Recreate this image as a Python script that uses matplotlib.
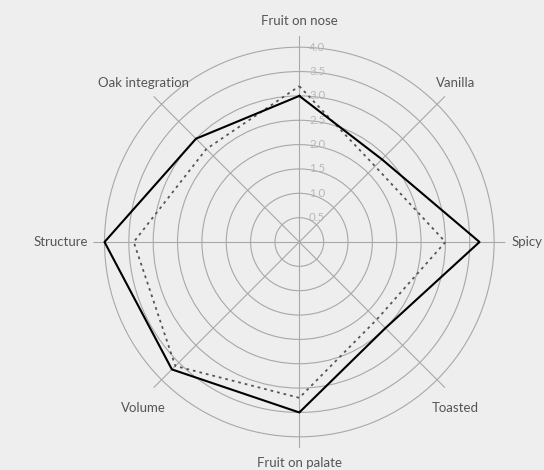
import numpy as np
import matplotlib.pyplot as plt

categories = ["Fruit on nose", "Vanilla", "Spicy", "Toasted",
              "Fruit on palate", "Volume", "Structure", "Oak integration"]
wine_a = [3.0, 2.4, 3.7, 2.5, 3.5, 3.7, 4.0, 3.0]
wine_b = [3.2, 2.2, 3.0, 2.25, 3.2, 3.6, 3.4, 2.7]
rings = [0.5, 1.0, 1.5, 2.0, 2.5, 3.0, 3.5, 4.0]
ring_labels = ["0.5", "1.0", "1.5", "2.0", "2.5", "3.0", "3.5", "4.0"]

bg = "#eeeeee"
grid = "#a8a8a8"
txt = "#555555"

plt.rcParams['font.family'] = ['Lato', 'DejaVu Sans']

fig = plt.figure(figsize=(5.44, 4.70), dpi=100, facecolor=bg)
ax = fig.add_axes([0.1715, 0.0468, 0.7574, 0.8766], projection="polar")
ax.set_facecolor(bg)
ax.set_theta_offset(np.pi / 2)
ax.set_theta_direction(-1)

n = len(categories)
ang = np.arange(n) * 2 * np.pi / n
ang_c = np.append(ang, ang[0])

ax.set_ylim(0, 4.23)
ax.set_yticks(rings)
ax.set_yticklabels([])
ax.set_xticks(ang)
ax.set_xticklabels([])
ax.grid(color=grid, linewidth=0.8)
ax.spines["polar"].set_visible(False)
ax.tick_params(length=0)

ax.plot(ang_c, np.append(wine_b, wine_b[0]), color="#555555", lw=1.3,
        linestyle=(0, (1.5, 2.2)))
ax.plot(ang_c, np.append(wine_a, wine_a[0]), color="black", lw=1.5)

# ring values next to the top spoke
for r, lbl in zip(rings, ring_labels):
    ax.annotate(lbl, xy=(0, r), xytext=(7, 0), textcoords="offset points",
                va="center", ha="left", color="#b8b8b8", fontsize=8.3)

# category labels (small per-label nudges in points)
nudge = {"Vanilla": (0, 2), "Oak integration": (0, 2),
         "Toasted": (0, -7), "Volume": (0, -7)}
for a, name in zip(ang, categories):
    if name == "Spicy":
        ax.text(a, 4.36, name, ha="left", va="center", color=txt, fontsize=9.5)
    elif name == "Structure":
        ax.text(a, 4.33, name, ha="right", va="center", color=txt, fontsize=9.5)
    else:
        ax.annotate(name, xy=(a, 4.53), xytext=nudge.get(name, (0, 0)),
                    textcoords="offset points", ha="center", va="center",
                    color=txt, fontsize=9.5, annotation_clip=False)

fig.savefig("out.png", dpi=100, facecolor=bg)
